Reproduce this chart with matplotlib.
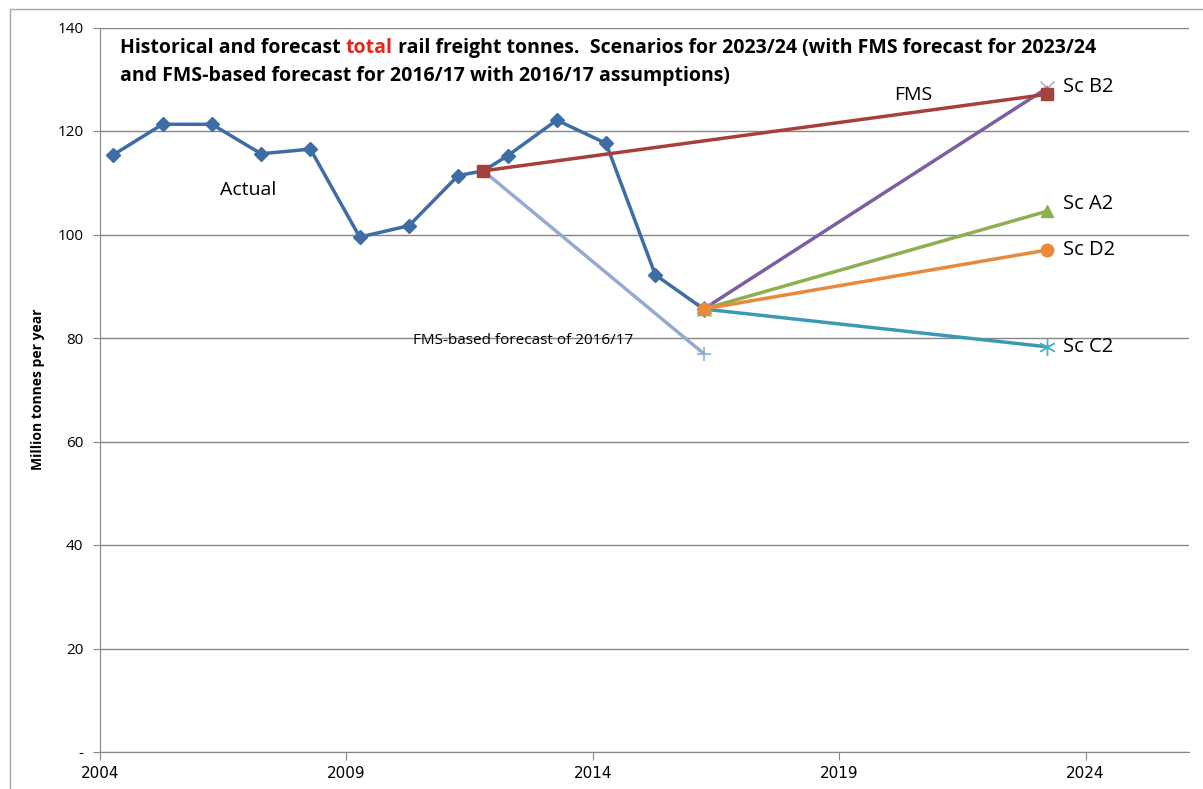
import matplotlib
matplotlib.use('Agg')
import matplotlib.pyplot as plt
from matplotlib.patches import Rectangle

plt.rcParams['font.family'] = ['Open Sans', 'DejaVu Sans']

# actual tonnes (million), decimal year
act_x = [2004.27, 2005.27, 2006.27, 2007.27, 2008.27, 2009.27, 2010.27, 2011.27,
         2011.78, 2012.27, 2013.27, 2014.27, 2015.27, 2016.25]
act_y = [115.4, 121.3, 121.3, 115.6, 116.5, 99.5, 101.7, 111.4,
         112.3, 115.2, 122.1, 117.6, 92.2, 85.6]

# forecasts
fms_x = [2011.78, 2023.22]
fms_y = [112.3, 127.1]
fmsb_x = [2011.78, 2016.25]
fmsb_y = [112.3, 77.0]
sc_x = [2016.25, 2023.22]
sc_b2 = [85.6, 128.3]
sc_a2 = [85.6, 104.5]
sc_d2 = [85.6, 97.0]
sc_c2 = [85.6, 78.3]

yticks = [0, 20, 40, 60, 80, 100, 120, 140]
ylabels = ['-', '20', '40', '60', '80', '100', '120', '140']
xticks = [2004, 2009, 2014, 2019, 2024]

fig = plt.figure(figsize=(12.03, 7.89), dpi=100)
ax = fig.add_axes([100/1203, 37/789, 1089/1203, 724.5/789])

# outer chart frame
fig.patches.append(Rectangle((10/1203, -0.05), 1.2, (789-9)/789 + 0.05,
                             transform=fig.transFigure, fill=False,
                             edgecolor='#a6a6a6', lw=1.0))

ax.plot(fmsb_x, fmsb_y, color='#95aad0', lw=2.5, marker='+', ms=10, mew=1.2,
        markevery=[1], zorder=3)
ax.plot(act_x, act_y, color='#3e6da6', lw=2.5, marker='D', ms=7,
        markevery=[i for i in range(len(act_x)) if i != 8], zorder=4)
ax.plot(fms_x, fms_y, color='#a6403d', lw=2.5, marker='s', ms=9, zorder=5)
ax.plot(sc_x, sc_b2, color='#7b5ea3', lw=2.5, marker='x', ms=10, mew=1.0,
        mec='#a9a0c8', zorder=3)
ax.plot(sc_x, sc_c2, color='#3c9ab0', lw=2.5, marker=(6, 2, 0), ms=12, mew=1.0,
        mec='#4ab0c8', zorder=3)
ax.plot(sc_x, sc_a2, color='#8db04c', lw=2.5, marker='^', ms=9, zorder=3)
ax.plot(sc_x, sc_d2, color='#e8893c', lw=2.5, marker='o', ms=9, zorder=6)

ax.set_xlim(2004, 2026.1)
ax.set_ylim(0, 140)
ax.set_yticks(yticks)
ax.set_yticklabels(ylabels)
ax.set_xticks(xticks)
for s in ['top', 'right']:
    ax.spines[s].set_visible(False)
for s in ['left', 'bottom']:
    ax.spines[s].set_color('#868686')
ax.yaxis.grid(True, color='#868686', lw=1)
ax.set_axisbelow(True)
ax.tick_params(axis='y', length=5, color='#868686', labelsize=11, pad=7)
ax.tick_params(axis='x', length=6, color='#868686', labelsize=11, pad=4)
for lb in ax.get_xticklabels():
    lb.set_family(['Liberation Sans Narrow', 'DejaVu Sans'])
ax.set_ylabel('Million tonnes per year', fontsize=10, fontweight='bold')
ax.yaxis.set_label_coords(-55/1089, 0.5)

# title, with 'total' in red
tkw = dict(fontsize=14, fontweight='bold', color='black')
ty1 = 1 - 53/789
t1 = fig.text(120/1203, ty1, 'Historical and forecast ', va='baseline',
              ha='left', **tkw)
t2 = fig.text(0, 0, 'total', va='baseline', ha='left', **dict(tkw, color='#e0281e'))
t3 = fig.text(0, 0, ' rail freight tonnes.  Scenarios for 2023/24 (with FMS forecast for 2023/24',
              va='baseline', ha='left', **tkw)
fig.canvas.draw()
r = fig.canvas.get_renderer()
bb = t1.get_window_extent(r)
t2.set_position((bb.x1 / fig.bbox.width, ty1))
bb = t2.get_window_extent(r)
t3.set_position((bb.x1 / fig.bbox.width, ty1))
fig.text(120/1203, 1 - 81/789,
         'and FMS-based forecast for 2016/17 with 2016/17 assumptions)',
         va='baseline', ha='left', **tkw)

ax.text(2007.0, 108.6, 'Actual', fontsize=14, ha='center', va='center')
ax.text(2020.5, 127.0, 'FMS', fontsize=14, ha='center', va='center')
ax.text(2023.55, 128.5, 'Sc B2', fontsize=14.5, ha='left', va='center')
ax.text(2023.55, 105.8, 'Sc A2', fontsize=14.5, ha='left', va='center')
ax.text(2023.55, 97.1, 'Sc D2', fontsize=14.5, ha='left', va='center')
ax.text(2023.55, 78.2, 'Sc C2', fontsize=14.5, ha='left', va='center')
ax.text(2010.35, 79.6, 'FMS-based forecast of 2016/17', fontsize=11,
        ha='left', va='center')

fig.savefig('out.png', dpi=100)
